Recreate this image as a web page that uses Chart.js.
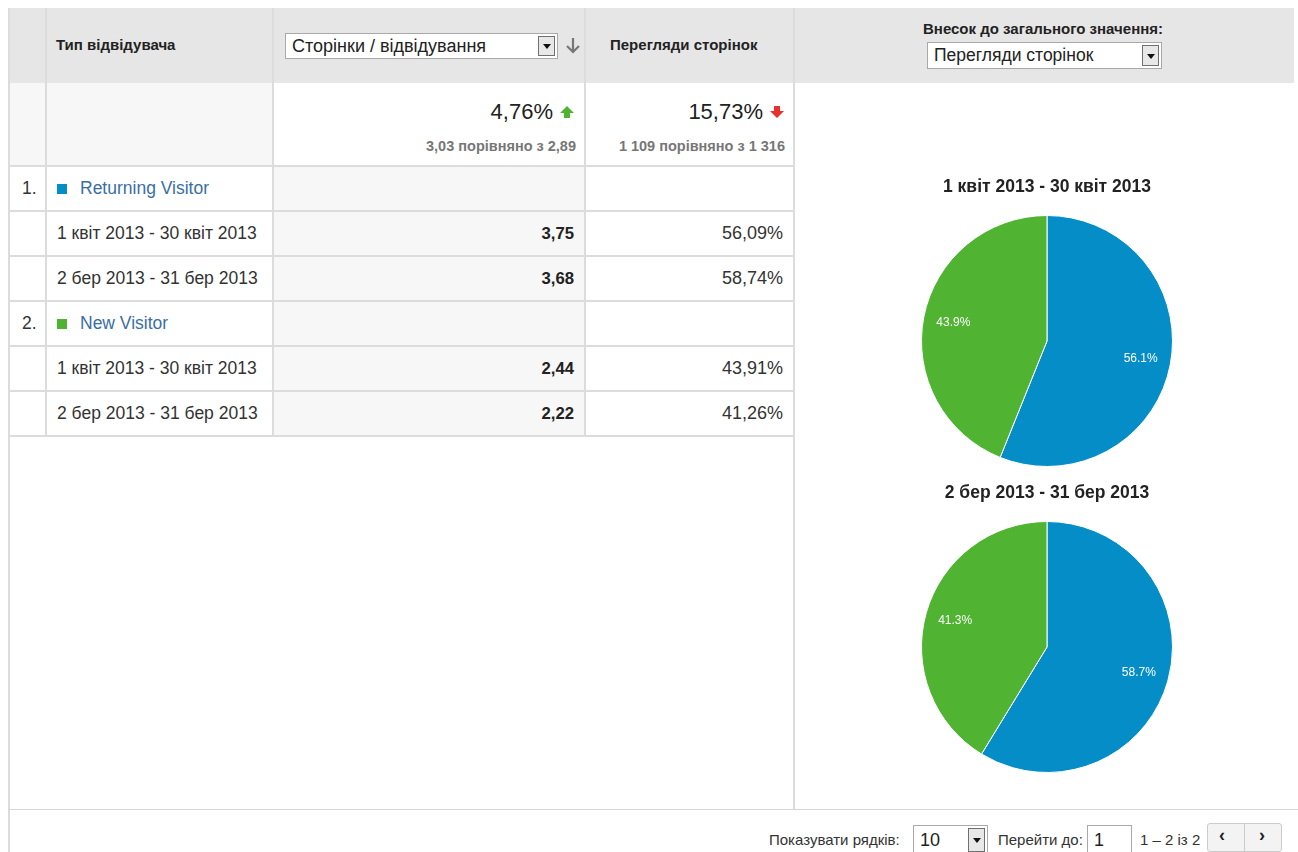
<!DOCTYPE html>
<html>
<head>
<meta charset="utf-8">
<script src="https://cdn.jsdelivr.net/npm/chart.js@4/dist/chart.umd.min.js"></script>
<style>
  body { margin: 0; background: #fff; font-family: Arial, "Liberation Sans", sans-serif; color: #222; }
  #page { position: relative; width: 1298px; height: 852px; overflow: hidden; }
  .abs { position: absolute; white-space: nowrap; }
  .vl { position: absolute; width: 2px; background: #dcdcdc; }
  .hl { position: absolute; height: 2px; background: #dcdcdc; }
  .hd { font-size: 15px; font-weight: bold; color: #222; height: 20px; line-height: 20px; }
  .cell { height: 45px; line-height: 45px; }
  .txt { font-size: 17.5px; color: #333; }
  .num { font-size: 16.7px; font-weight: bold; color: #222; text-align: right; }
  .pct { font-size: 18px; color: #333; text-align: right; }
  .sel { position: absolute; background: #fff; border: 1px solid #a9a9a9; box-sizing: border-box; color: #222; }
  .sel span { position: absolute; left: 6px; top: 0; bottom: 0; display: flex; align-items: center; }
  .btn { position: absolute; top: 2px; bottom: 2px; width: 17px; right: 2px; background: #e8e8e8; border: 1px solid #707070; box-sizing: border-box; }
  .btn::after { content: ""; position: absolute; left: 4px; top: 50%; margin-top: -2px; border-left: 4px solid transparent; border-right: 4px solid transparent; border-top: 5px solid #111; }
  .foot { font-size: 15px; color: #333; height: 20px; line-height: 20px; }
  canvas { position: absolute; }
</style>
</head>
<body>
<div id="page">
  <!-- фон -->
  <div class="abs" style="left:9px;top:8px;width:1285px;height:75px;background:#e6e6e6"></div>
  <div class="abs" style="left:9px;top:83px;width:263px;height:83px;background:#f7f7f7"></div>
  <div class="abs" style="left:272px;top:166px;width:312px;height:270px;background:#f7f7f7"></div>

  <!-- сітка -->
  <div class="vl" style="left:8px;top:8px;height:844px"></div>
  <div class="vl" style="left:45px;top:8px;height:428px"></div>
  <div class="vl" style="left:272px;top:8px;height:428px"></div>
  <div class="vl" style="left:584px;top:8px;height:428px"></div>
  <div class="vl" style="left:793px;top:8px;height:802px"></div>
  <div class="abs" style="left:8px;top:809px;width:1290px;height:1px;background:#d6d6d6"></div>
  <div id="rowlines"></div>

  <!-- заголовок -->
  <div class="abs hd" style="left:56px;top:35px">Тип відвідувача</div>
  <div class="sel" style="left:285px;top:33px;width:273px;height:26px;font-size:18px"><span>Сторінки / відвідування</span><div class="btn"></div></div>
  <svg class="abs" style="left:565px;top:37px" width="16" height="18"><path d="M8 1 V15 M2 9 L8 15 L14 9" stroke="#777" stroke-width="2.2" fill="none"/></svg>
  <div class="abs hd" style="left:610px;top:35px">Перегляди сторінок</div>
  <div class="abs hd" style="left:793px;width:500px;top:19px;text-align:center">Внесок до загального значення:</div>
  <div class="sel" style="left:927px;top:42px;width:235px;height:27px;font-size:17.5px"><span>Перегляди сторінок</span><div class="btn"></div></div>

  <!-- підсумок -->
  <div class="abs" style="left:300px;width:253px;top:99px;height:26px;line-height:26px;text-align:right;font-size:22px;color:#222">4,76%</div>
  <svg class="abs" style="left:559px;top:105px" width="16" height="14"><polygon points="8,1 15,8 11,8 11,13 5,13 5,8 1,8" fill="#50b432"/></svg>
  <div class="abs" style="left:300px;width:276px;top:137px;height:18px;line-height:18px;text-align:right;font-size:14.5px;font-weight:bold;color:#777">3,03 порівняно з 2,89</div>
  <div class="abs" style="left:590px;width:173px;top:99px;height:26px;line-height:26px;text-align:right;font-size:22px;color:#222">15,73%</div>
  <svg class="abs" style="left:769px;top:105px" width="16" height="14"><polygon points="5,1 11,1 11,6 15,6 8,13 1,6 5,6" fill="#e8312f"/></svg>
  <div class="abs" style="left:590px;width:195px;top:137px;height:18px;line-height:18px;text-align:right;font-size:14.5px;font-weight:bold;color:#777">1 109 порівняно з 1 316</div>

  <div id="rows"></div>

  <!-- нижня панель -->
  <div class="abs foot" style="left:769px;top:830px">Показувати рядків:</div>
  <div class="sel" style="left:913px;top:825px;width:75px;height:30px;font-size:18px"><span>10</span><div class="btn"></div></div>
  <div class="abs foot" style="left:998px;top:830px">Перейти до:</div>
  <div class="sel" style="left:1087px;top:825px;width:45px;height:30px;font-size:18px"><span>1</span></div>
  <div class="abs foot" style="left:1140px;top:830px">1 – 2 із 2</div>
  <div class="abs" style="left:1207px;top:823px;width:75px;height:29px;border:1px solid #ccc;border-radius:3px;background:#f3f3f3;box-sizing:border-box"></div>
  <div class="abs" style="left:1244px;top:824px;width:1px;height:27px;background:#ccc"></div>
  <div class="abs" style="left:1219px;top:825px;font-size:18px;font-weight:bold">&lsaquo;</div>
  <div class="abs" style="left:1259px;top:825px;font-size:18px;font-weight:bold">&rsaquo;</div>

  <canvas id="pie1" style="left:897px;top:173px" width="300" height="294"></canvas>
  <canvas id="pie2" style="left:897px;top:479px" width="300" height="294"></canvas>
</div>

<script>
// дані
const visitorTypes = ['Returning Visitor', 'New Visitor'];
const visitorColors = ['#058dc7', '#50b432'];
const periods = ['1 квіт 2013 - 30 квіт 2013', '2 бер 2013 - 31 бер 2013'];
const pagesPerVisit = [[3.75, 3.68], [2.44, 2.22]];   // [тип][період]
const pageviewShare1 = [56.09, 43.91];                 // період 1
const pageviewShare2 = [58.74, 41.26];                 // період 2

const fmt = (v, d) => v.toFixed(d).replace('.', ',');

// таблиця
const rowsEl = document.getElementById('rows');
const linesEl = document.getElementById('rowlines');
const shares = [pageviewShare1, pageviewShare2];
[166, 211, 256, 301, 346, 391, 436].forEach(t => {
    linesEl.insertAdjacentHTML('beforeend', `<div class="hl" style="left:9px;top:${t - 1}px;width:784px"></div>`);
});
let y = 166;
visitorTypes.forEach((name, i) => {
    rowsEl.insertAdjacentHTML('beforeend', `
        <div class="abs cell txt" style="left:22px;top:${y}px">${i + 1}.</div>
        <div class="abs" style="left:57px;top:${y + 18}px;width:10px;height:10px;background:${visitorColors[i]}"></div>
        <div class="abs cell txt" style="left:80px;top:${y}px;color:#3a6ea5">${name}</div>`);
    y += 45;
    periods.forEach((p, j) => {
        rowsEl.insertAdjacentHTML('beforeend', `
            <div class="abs cell txt" style="left:57px;top:${y}px">${p}</div>
            <div class="abs cell num" style="left:300px;width:274px;top:${y}px">${fmt(pagesPerVisit[i][j], 2)}</div>
            <div class="abs cell pct" style="left:590px;width:193px;top:${y}px">${fmt(shares[j][i], 2)}%</div>`);
        y += 45;
    });
});

// підписи всередині секторів
const pieLabels = {
    id: 'pieLabels',
    afterDatasetsDraw(chart) {
        const ctx = chart.ctx;
        const vals = chart.data.datasets[0].data;
        const total = vals.reduce((a, b) => a + b, 0);
        ctx.save();
        ctx.font = '12px Arial';
        ctx.fillStyle = '#fff';
        ctx.textAlign = 'center';
        ctx.textBaseline = 'middle';
        chart.getDatasetMeta(0).data.forEach((arc, i) => {
            const p = arc.getProps(['x', 'y', 'startAngle', 'endAngle', 'outerRadius'], true);
            const a = (p.startAngle + p.endAngle) / 2;
            const r = p.outerRadius * 0.76;
            ctx.fillText((vals[i] / total * 100).toFixed(1) + '%', p.x + Math.cos(a) * r, p.y + Math.sin(a) * r);
        });
        ctx.restore();
    }
};

function makePie(id, title, data) {
    new Chart(document.getElementById(id), {
        type: 'pie',
        data: {
            labels: visitorTypes,
            datasets: [{ data: data, backgroundColor: visitorColors, borderColor: '#fff', borderWidth: 1, hoverOffset: 0 }]
        },
        options: {
            responsive: false,
            animation: false,
            plugins: {
                legend: { display: false },
                tooltip: { enabled: false },
                title: {
                    display: true,
                    text: title,
                    color: '#222',
                    font: { family: 'Arial', size: 17.5, weight: 'bold' },
                    padding: { top: 4, bottom: 17 }
                }
            }
        },
        plugins: [pieLabels]
    });
}

makePie('pie1', periods[0], pageviewShare1);
makePie('pie2', periods[1], pageviewShare2);
</script>
</body>
</html>
